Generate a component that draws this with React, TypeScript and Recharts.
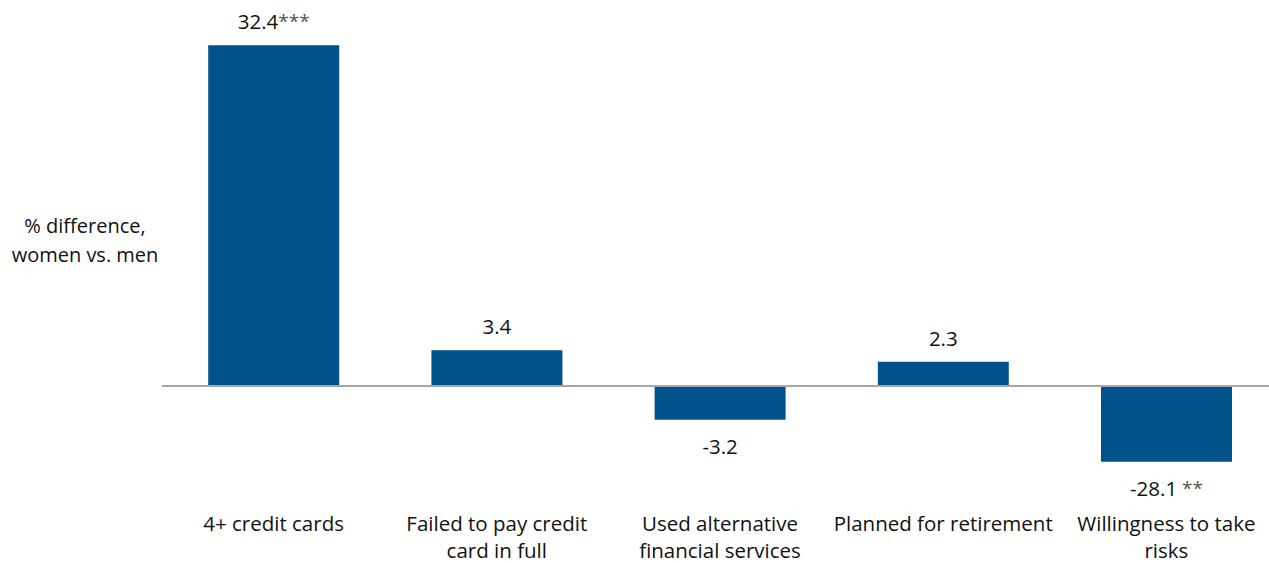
import React from 'react';
import { BarChart, Bar, XAxis, YAxis, ReferenceLine, LabelList } from 'recharts';

const CATEGORIES = [
  '4+ credit cards',
  'Failed to pay credit card in full',
  'Used alternative financial services',
  'Planned for retirement',
  'Willingness to take risks',
];
// tick labels, broken the way the original wraps them
const TICK_LINES = [
  ['4+ credit cards'],
  ['Failed to pay credit', 'card in full'],
  ['Used alternative', 'financial services'],
  ['Planned for retirement'],
  ['Willingness to take', 'risks'],
];
// bar lengths as drawn in the picture
const BAR_VALUES = [32.4, 3.4, -3.2, 2.3, -7.2];
// printed value labels and significance stars
const VALUE_LABELS = ['32.4', '3.4', '-3.2', '2.3', '-28.1'];
const STARS = ['***', '', '', '', ' **'];

const data = CATEGORIES.map((name, i) => ({ name, value: BAR_VALUES[i] }));

const FONT = '"Open Sans", Lato, sans-serif';
const BLUE = '#00538a';

const CategoryTick = ({ x, y, payload, index }: any) => {
  const lines = TICK_LINES[index] || [payload.value];
  return (
    <text x={x} y={y} textAnchor="middle" fontFamily={FONT} fontSize={20.5} fill="#111">
      {lines.map((l: string, i: number) => (
        <tspan key={i} x={x} dy={i === 0 ? 21 : 27}>{l}</tspan>
      ))}
    </text>
  );
};

const ValueLabel = (props: any) => {
  const { x, y, width, height, index } = props;
  const v = BAR_VALUES[index];
  const cx = x + width / 2;
  const top = Math.min(y, y + height);
  const bottom = Math.max(y, y + height);
  const ty = v >= 0 ? top - 16 : bottom + 34;
  return (
    <text x={cx} y={ty} textAnchor="middle" fontFamily={FONT} fontSize={20.5} fill="#111">
      {VALUE_LABELS[index]}
      {STARS[index] && (
        <tspan fontSize={19} fill="#555" dy={-1}>{STARS[index]}</tspan>
      )}
    </text>
  );
};

const App: React.FC = () => {
  return (
    <div style={{ position: 'absolute', left: 0, top: 0, width: 1269, height: 563, overflow: 'hidden', background: '#fff' }}>
      <div
        style={{
          position: 'absolute', left: 0, top: 211, width: 170, textAlign: 'center',
          fontFamily: FONT, fontSize: 20, lineHeight: '29px', color: '#111',
        }}
      >
        % difference,<br />women vs. men
      </div>
      <BarChart
        width={1278}
        height={563}
        data={data}
        margin={{ top: 17.8, right: 0, left: 162, bottom: 0 }}
        barCategoryGap="20.7%"
      >
        <YAxis hide domain={[-11, 35]} />
        <XAxis
          dataKey="name"
          height={61.3}
          axisLine={false}
          tickLine={false}
          interval={0}
          tick={<CategoryTick />}
        />
        <ReferenceLine y={0} stroke="#a6a6a6" strokeWidth={2} />
        <Bar dataKey="value" fill={BLUE} isAnimationActive={false}>
          <LabelList dataKey="value" content={<ValueLabel />} />
        </Bar>
      </BarChart>
    </div>
  );
};

export default App;
